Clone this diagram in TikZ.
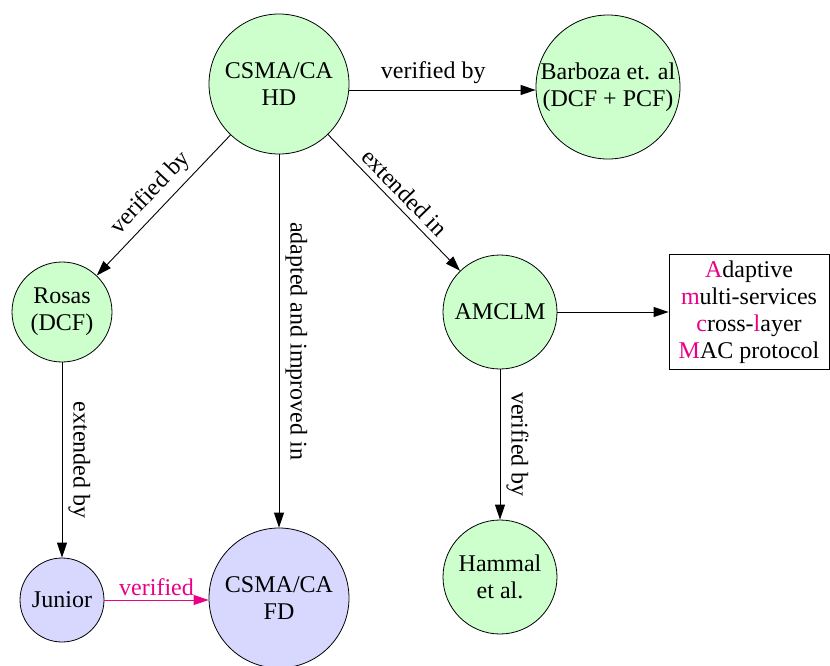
\documentclass[tikz,border=0pt]{standalone}
\usepackage{fontspec}
\setmainfont{Liberation Serif}
\usetikzlibrary{arrows.meta}
\definecolor{nodegreen}{RGB}{204,255,204}
\definecolor{nodeblue}{RGB}{216,216,255}
\definecolor{accent}{RGB}{232,0,135}
\tikzset{
  every node/.style={font=\fontsize{12}{13.5}\selectfont, align=center},
  bubble/.style={circle, draw, inner sep=0pt},
  greenbubble/.style={bubble, fill=nodegreen},
  bluebubble/.style={bubble, fill=nodeblue},
  link/.style={-{Triangle[length=7.5pt,width=5pt]}, line width=0.45pt},
  lbl/.style={midway, sloped, above, inner sep=3pt},
}
\newcommand{\hl}[1]{\textcolor{accent}{#1}}
\begin{document}
\begin{tikzpicture}[x=0.5pt, y=-0.5pt]
  \useasboundingbox (0,0) rectangle (830,665);

  \node[greenbubble, minimum size=70pt] (hd) at (279,84) {CSMA/CA\\HD};
  \node[greenbubble, minimum size=72pt] (barboza) at (608,87) {Barboza et. al\\(DCF + PCF)};
  \node[greenbubble, minimum size=50pt] (rosas) at (62,312) {Rosas\\(DCF)};
  \node[greenbubble, minimum size=57pt] (amclm) at (500,312) {AMCLM};
  \node[draw, fill=white, inner sep=2pt, minimum width=80pt, minimum height=57.5pt] (amc) at (749,312)
    {\hl{A}daptive\\\hl{m}ulti-services\\\hl{c}ross-\hl{l}ayer\\\hl{M}AC protocol};
  \node[bluebubble, minimum size=42pt] (junior) at (62,600) {Junior};
  \node[bluebubble, minimum size=70pt] (fd) at (279,598) {CSMA/CA\\FD};
  \node[greenbubble, minimum size=57pt] (hammal) at (500,577) {Hammal\\et al.};

  \draw[link] (hd.east |- 0,90) -- (barboza.west |- 0,90) node[lbl, pos=0.45] {verified by};
  \draw[link] (hd) -- (rosas) node[lbl, pos=0.5] {verified by};
  \draw[link] (hd) -- (fd) node[lbl, pos=0.5] {adapted and improved in};
  \draw[link] (hd) -- (amclm) node[lbl, pos=0.5] {extended in};
  \draw[link] (amclm) -- (amc);
  \draw[link] (amclm) -- (hammal) node[lbl, pos=0.5] {verified by};
  \draw[link] (rosas) -- (junior) node[lbl, pos=0.5] {extended by};
  \draw[link, accent] (junior) -- (fd.west |- junior) node[lbl, pos=0.5, text=accent, inner sep=2pt] {verified};
\end{tikzpicture}
\end{document}
